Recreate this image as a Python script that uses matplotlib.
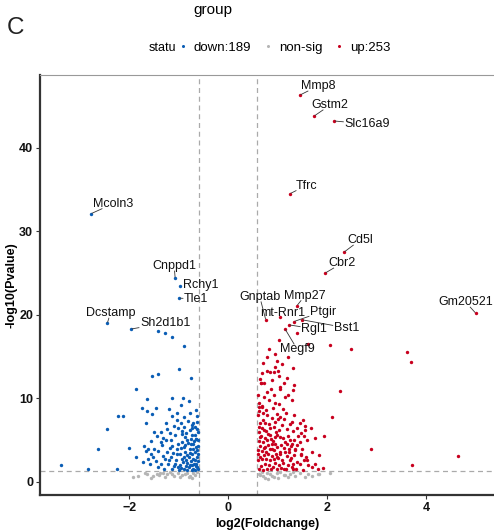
import matplotlib
matplotlib.use("Agg")
import matplotlib.pyplot as plt
from matplotlib.lines import Line2D
import numpy as np

plt.rcParams['font.family'] = ['Liberation Sans', 'DejaVu Sans']

# ---------------- data ----------------
down_labels = ["Mcoln3", "Cnppd1", "Rchy1", "Tle1", "Dcstamp", "Sh2d1b1"]
down_label_x = [-2.77, -1.07, -0.97, -0.99, -2.44, -1.96]
down_label_y = [32.1, 24.4, 23.5, 22.0, 19.0, 18.3]

up_labels = ["Mmp8", "Gstm2", "Slc16a9", "Tfrc", "Cd5l", "Cbr2", "Gm20521",
             "Gnptab", "Mmp27", "mt-Rnr1", "Ptgir", "Bst1", "Rgl1", "Megf9"]
up_label_x = [1.45, 1.74, 2.14, 1.25, 2.34, 1.96, 5.00,
              0.76, 1.39, 1.05, 1.33, 1.50, 1.23, 1.15]
up_label_y = [46.3, 43.8, 43.2, 34.5, 27.5, 25.0, 20.2,
              19.4, 21.1, 19.8, 19.2, 19.4, 18.8, 18.3]

down_x = [-1.41, -1.27, -1.14, -0.89, -1.00, -1.53, -1.41, -0.75, -1.86, -1.13,
          -0.92, -0.80, -1.64, -1.74, -1.63, -1.54, -1.46, -1.20, -1.04, -0.96,
          -2.22, -2.12, -2.44, -1.66, -1.13, -1.04, -0.96, -2.63, -2.01, -1.86,
          -3.38, -2.84, -2.24,
          -0.89, -0.77, -0.65, -1.25, -1.49, -1.36, -1.24, -1.17, -1.02, -0.89,
          -0.78, -0.67, -0.62, -0.60, -1.07, -0.94, -0.87, -0.73, -0.65, -1.36,
          -1.25, -1.15, -1.02, -0.94, -0.83, -0.75, -0.70, -1.34, -1.49, -1.14,
          -1.04, -0.90, -0.78, -0.65, -1.66, -1.56, -1.41, -1.24, -1.04, -0.87,
          -0.73, -0.63, -1.61, -1.51, -1.27, -1.16, -1.05, -0.94, -0.80, -0.70,
          -0.62, -1.71, -1.58, -1.36, -1.21, -1.07, -0.97, -0.83, -0.73, -0.65,
          -1.41, -1.29, -1.14, -1.02, -0.90, -0.80, -0.70, -0.62,
          -0.85, -0.72, -0.66, -0.61, -0.68, -0.76, -0.82, -0.88, -0.61, -0.66,
          -0.71, -0.77, -0.84, -0.90, -0.61, -0.67, -0.75, -0.86, -0.92, -0.61,
          -0.64, -0.68, -0.77, -0.86, -0.95, -0.61, -0.67, -0.74, -0.83, -0.99,
          -1.10, -1.19, -1.31, -1.45, -0.98, -1.11, -0.81, -0.63, -0.70, -0.74,
          -0.94, -1.10, -1.31, -1.44, -1.55, -1.70, -1.62, -1.18, -0.96, -0.62,
          -0.64]
down_y = [18.1, 17.8, 17.3, 16.3, 13.5, 12.7, 12.9, 12.4, 11.1, 10.1,
          10.0, 9.7, 9.9, 8.9, 8.5, 8.1, 8.9, 8.7, 8.3, 9.2,
          7.9, 7.9, 6.3, 7.1, 7.9, 7.4, 7.0, 4.0, 4.1, 3.0,
          2.0, 1.6, 1.5,
          7.8, 8.2, 8.6, 7.1, 6.0, 6.0, 6.3, 5.8, 6.4, 6.6,
          6.2, 6.6, 7.2, 6.0, 5.6, 5.7, 5.4, 5.6, 5.2, 4.8,
          5.0, 5.0, 4.6, 4.8, 5.0, 5.2, 4.6, 4.4, 4.0, 4.3,
          4.0, 4.2, 3.9, 4.2, 3.7, 3.4, 3.7, 3.6, 3.4, 3.6,
          3.4, 3.8, 2.8, 3.0, 2.7, 3.0, 2.6, 2.8, 3.0, 2.8,
          3.0, 2.4, 2.2, 2.2, 2.2, 2.2, 2.0, 2.3, 2.0, 2.2,
          1.8, 1.6, 1.6, 1.8, 1.6, 1.8, 1.6, 1.8,
          5.9, 6.4, 5.6, 5.0, 4.9, 4.5, 4.7, 4.4, 4.3, 3.6,
          3.9, 3.5, 3.2, 3.0, 3.3, 2.6, 2.5, 2.6, 2.4, 2.5,
          1.9, 2.2, 2.0, 1.9, 1.7, 1.5, 1.4, 1.45, 1.4, 1.45,
          1.9, 2.6, 3.1, 2.5, 3.3, 3.5, 7.3, 7.9, 7.0, 6.8,
          6.1, 6.7, 5.3, 5.5, 4.9, 4.3, 4.0, 4.1, 4.1, 6.3,
          5.1]

up_x = [1.02, 1.40, 1.62, 2.06, 2.48, 0.83, 3.61, 3.69, 1.20, 0.79,
        0.94, 0.98, 1.08, 0.69, 0.78, 0.85, 0.92, 1.00, 1.02, 1.19,
        0.67, 1.34, 0.87, 0.78, 2.26, 0.61, 0.92, 0.83, 0.95, 1.29,
        0.68, 1.10, 1.33, 2.10, 0.63, 0.60, 0.78, 0.98, 0.88, 1.00,
        1.12, 0.71, 1.52, 1.45, 1.24, 1.56, 0.63, 0.92, 0.73, 1.02,
        1.47, 1.54, 1.93, 0.85, 0.65, 0.94, 1.04, 0.78, 1.25, 1.14,
        0.95, 1.29, 0.75, 0.88, 1.22, 1.35, 2.89, 1.05, 1.14, 1.47,
        4.64, 0.61, 0.98, 1.24, 1.39, 1.54, 1.59, 1.69, 1.31, 1.12,
        3.71,
        0.62, 0.66, 0.70, 0.74, 0.78, 0.82, 0.86, 0.90, 0.94, 0.98,
        1.02, 1.06, 1.10, 1.16, 1.20, 1.28,
        0.61, 0.65, 0.69, 0.73, 0.77, 0.81, 0.85, 0.89, 0.93, 0.97,
        1.01, 1.05, 1.09, 1.18, 1.26, 1.33,
        0.61, 0.64, 0.68, 0.72, 0.76, 0.80, 0.84, 0.88, 0.92, 0.99,
        1.06, 1.12, 1.19, 1.40, 1.50,
        0.62, 0.66, 0.70, 0.74, 0.80, 0.87, 0.91, 0.99, 1.10, 1.20,
        1.33, 1.42,
        0.63, 0.68, 0.77, 0.84, 0.96, 1.08, 1.18, 1.30,
        0.65, 0.75, 0.83, 0.95, 1.05, 1.16, 1.28,
        0.70, 0.68, 0.62, 0.72, 0.90, 1.03, 1.15, 1.05, 0.73, 0.64,
        0.88, 1.13, 0.95, 0.70, 1.32,
        1.46, 1.62, 1.75, 1.92, 1.58, 1.70, 1.83, 1.45, 1.60, 1.75,
        1.55, 1.68, 1.39, 1.48, 1.30, 1.38, 1.52, 1.82, 1.22, 1.26,
        1.35,
        0.66, 1.05, 1.20, 1.32, 0.63, 0.77]
up_y = [17.0, 17.8, 16.5, 16.4, 15.9, 15.9, 15.5, 14.3, 14.9, 15.0,
        15.3, 14.5, 14.1, 13.0, 13.3, 13.2, 13.2, 13.3, 12.7, 12.4,
        11.9, 11.6, 11.1, 10.8, 10.9, 10.4, 10.4, 9.8, 9.5, 9.8,
        9.1, 8.7, 8.0, 7.8, 8.5, 8.0, 8.0, 8.1, 7.6, 7.5,
        7.5, 7.4, 7.4, 7.0, 6.9, 6.7, 6.6, 6.6, 6.2, 6.2,
        5.8, 5.5, 5.5, 5.6, 5.4, 5.4, 5.4, 5.0, 5.0, 4.8,
        4.6, 4.6, 4.2, 4.0, 4.0, 4.0, 4.0, 3.6, 3.6, 3.4,
        3.1, 3.4, 3.0, 2.6, 2.4, 2.6, 2.6, 1.8, 1.6, 1.6,
        2.0,
        1.5, 1.9, 1.45, 2.2, 1.6, 2.0, 1.5, 1.8, 2.3, 1.5,
        2.0, 1.7, 2.3, 1.5, 2.0, 1.8,
        2.6, 3.0, 2.7, 3.2, 2.8, 3.4, 2.6, 3.1, 2.7, 3.3,
        2.9, 3.4, 2.6, 3.1, 2.9, 3.2,
        3.8, 4.3, 3.7, 4.1, 3.6, 4.4, 3.9, 4.5, 3.8, 4.2,
        4.4, 4.1, 4.6, 4.4, 4.0,
        4.9, 5.5, 4.8, 5.3, 5.7, 5.1, 4.9, 5.6, 5.3, 5.5,
        5.0, 5.5,
        6.0, 6.4, 6.1, 6.5, 6.0, 6.8, 6.3, 6.1,
        7.0, 7.1, 6.9, 7.2, 7.8, 8.3, 7.2,
        8.3, 9.0, 9.4, 10.2, 8.8, 9.3, 10.2, 11.4, 11.8, 12.3,
        12.2, 11.8, 13.8, 14.2, 13.6,
        2.1, 2.0, 2.2, 1.7, 3.0, 3.6, 3.2, 4.8, 5.0, 5.3,
        6.2, 6.4, 6.5, 3.2, 2.2, 1.5, 1.45, 1.5, 3.6, 4.3,
        3.8,
        11.8, 11.1, 10.4, 11.0, 9.0, 8.6]

nonsig_x = [-1.83, -1.68, -1.52, -1.44, -1.37, -1.24, -1.17, -1.10, -1.02, -0.94,
            -0.83, -0.77, -0.70, -0.63, -1.64, -1.31, -1.92, -1.55, -1.28, -0.98,
            -0.72, -0.88, -1.14, -1.40, -0.66, -0.80,
            0.65, 0.78, 0.88, 0.98, 1.12, 1.25, 1.35, 1.45, 1.56, 1.82,
            2.05, 0.63, 0.71, 0.85, 1.15, 1.83, 0.68, 0.74, 0.92, 1.05,
            1.20, 1.30, 1.62, 1.70, 0.80, 1.00]
nonsig_y = [0.75, 1.04, 0.75, 0.96, 1.12, 0.92, 1.23, 0.75, 1.04, 0.84,
            1.12, 0.72, 1.04, 1.23, 0.96, 1.04, 0.55, 0.50, 0.60, 0.55,
            0.45, 0.95, 1.00, 0.85, 0.85, 0.60,
            0.84, 1.04, 0.72, 1.12, 0.84, 0.96, 0.72, 1.04, 0.64, 0.96,
            1.04, 0.96, 0.75, 0.96, 0.84, 0.92, 1.20, 0.50, 0.60, 1.20,
            0.55, 1.15, 0.95, 0.70, 0.30, 0.45]

fc_cut = 0.585
p_cut = 1.301
x_ticks = [-2, 0, 2, 4]
y_ticks = [0, 10, 20, 30, 40]

# ---------------- style ----------------
BLUE = "#0A5DB5"
RED = "#C8001E"
GRAY = "#B5B5B5"
PT = 6

W, H = 494, 530
fig = plt.figure(figsize=(W / 100, H / 100), dpi=100)
ax = fig.add_axes([40 / W, 1 - 495 / H, 455 / W, 420 / H])

ax.scatter(nonsig_x, nonsig_y, s=PT, color=GRAY, linewidths=0, zorder=2)
ax.scatter(down_x + down_label_x, down_y + down_label_y, s=PT, color=BLUE, linewidths=0, zorder=3)
ax.scatter(up_x + up_label_x, up_y + up_label_y, s=PT, color=RED, linewidths=0, zorder=3)

dash = dict(color="#AAAAAA", lw=0.9, ls=(0, (4, 3)), zorder=1)
ax.axvline(-fc_cut, **dash)
ax.axvline(fc_cut, **dash)
ax.axhline(p_cut, **dash)

ax.set_xlim(-3.8, 5.39)
ax.set_ylim(-1.56, 48.7)

# label offsets in pixels (layout only)
offsets = {
    "Mcoln3": (22, 10), "Cnppd1": (-1, 12), "Rchy1": (21, 1), "Tle1": (17, -1),
    "Dcstamp": (3, 10), "Sh2d1b1": (34, 6),
    "Mmp8": (18, 9), "Gstm2": (16, 11), "Slc16a9": (33, -3), "Tfrc": (16, 8),
    "Cd5l": (16, 12), "Cbr2": (17, 10), "Gm20521": (-10, 11),
    "Gnptab": (-6, 23), "Mmp27": (8, 10), "mt-Rnr1": (3, 4), "Ptgir": (29, 10),
    "Bst1": (44, -8), "Rgl1": (25, -4), "Megf9": (12, -20),
}
texts = []
for names, xs, ys in [(down_labels, down_label_x, down_label_y),
                      (up_labels, up_label_x, up_label_y)]:
    for n, x, y in zip(names, xs, ys):
        dx, dy = offsets[n]
        t = ax.annotate(n, xy=(x, y), xytext=(dx, dy), textcoords="offset pixels",
                        ha="center", va="center", fontsize=9, color="#111111",
                        zorder=5)
        texts.append((t, x, y))

# connector segments (ggrepel style): from point toward label centre,
# stopping at the label box
fig.canvas.draw()
r = fig.canvas.get_renderer()
inv = ax.transData.inverted()
for t, x, y in texts:
    bb = t.get_window_extent(r)
    x0, x1, y0, y1 = bb.x0 - 1, bb.x1 + 1, bb.y0 + 1, bb.y1 - 1
    px, py = ax.transData.transform((x, y))
    cx, cy = (x0 + x1) / 2, (y0 + y1) / 2
    vx, vy = cx - px, cy - py
    if x0 <= px <= x1 and y0 <= py <= y1:
        continue
    ts = []
    if vx != 0:
        for xe in (x0, x1):
            s = (xe - px) / vx
            yy = py + s * vy
            if 0 <= s <= 1 and y0 - 1e-6 <= yy <= y1 + 1e-6:
                ts.append(s)
    if vy != 0:
        for ye in (y0, y1):
            s = (ye - py) / vy
            xx = px + s * vx
            if 0 <= s <= 1 and x0 - 1e-6 <= xx <= x1 + 1e-6:
                ts.append(s)
    if not ts:
        continue
    s = min(ts)
    ex, ey = px + s * vx, py + s * vy
    d = np.hypot(ex - px, ey - py)
    if d < 2.5:
        continue
    ux, uy = (ex - px) / d, (ey - py) / d
    sx, sy = px + ux * 1.2, py + uy * 1.2
    (a, b), (c, e) = inv.transform([(sx, sy), (ex, ey)])
    ax.plot([a, c], [b, e], color="#333333", lw=0.6, zorder=4, clip_on=False)

ax.set_xticks(x_ticks)
ax.set_yticks(y_ticks)
for lab in ax.get_xticklabels() + ax.get_yticklabels():
    lab.set_fontweight("bold")
ax.tick_params(axis="both", labelsize=9, length=3, width=0.8, color="#333333",
               labelcolor="#111111", pad=2)

for s in ["left", "bottom"]:
    ax.spines[s].set_color("#333333")
    ax.spines[s].set_linewidth(1.6)
for s in ["top", "right"]:
    ax.spines[s].set_color("#999999")
    ax.spines[s].set_linewidth(0.8)

ax.set_xlabel("log2(Foldchange)", fontsize=9, fontweight="bold", labelpad=3)
ax.set_ylabel("-log10(Pvalue)", fontsize=9, fontweight="bold")
ax.yaxis.set_label_coords(-28 / 455, 0.5)
ax.yaxis.label.set_va("center")

fig.text(15 / W, 1 - 28 / H, "C", fontsize=17.5, ha="center", va="center",
         color="#222222")
fig.text(213 / W, 1 - 10 / H, "group", fontsize=11, ha="center", va="center")
fig.text(162 / W, 1 - 48 / H, "statu", fontsize=9, ha="center", va="center")

handles = [Line2D([], [], ls="", marker="o", ms=2.2, color=c, mew=0)
           for c in (BLUE, GRAY, RED)]
fig.legend(handles, ["down:189", "non-sig", "up:253"], ncol=3,
           loc="center left", bbox_to_anchor=(178 / W, 1 - 48 / H),
           frameon=False, fontsize=9.5, handlelength=0.7, handletextpad=0.5,
           columnspacing=0.9, borderpad=0, borderaxespad=0)

fig.savefig("out.png", dpi=100)
